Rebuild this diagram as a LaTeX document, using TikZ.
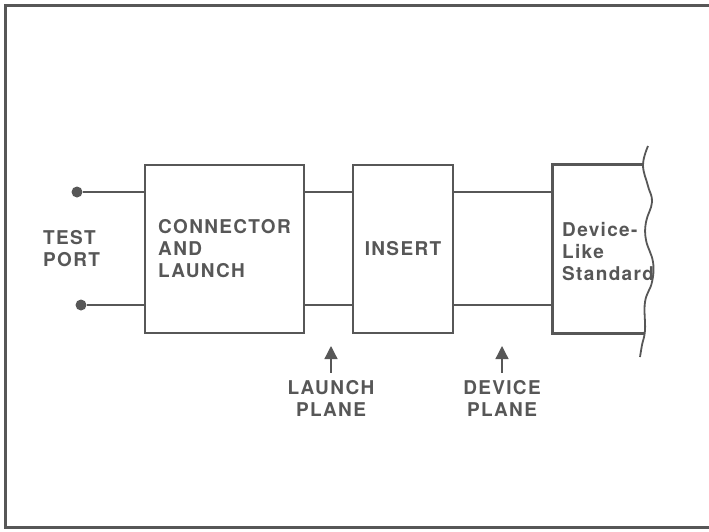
\documentclass[tikz,border=0pt]{standalone}
\usepackage{fontspec}
\setmainfont{TeX Gyre Heros}[LetterSpace=7]
\usepackage{tikz}
\usetikzlibrary{arrows.meta}

\colorlet{ink}{black!66}

\begin{document}
\begin{tikzpicture}[x=1pt, y=-1pt,
    every node/.style={text=ink, font=\fontsize{19}{22}\selectfont\bfseries},
    block/.style={draw=ink, line width=2.8pt, minimum height=168pt, align=left, inner sep=0pt},
    portdot/.style={circle, fill=ink, minimum size=11pt, inner sep=0pt},
    rail/.style={draw=ink, line width=2.8pt},
    planearrow/.style={draw=ink, line width=1.3pt, -{Triangle[width=13pt,length=13pt]}, shorten <=5pt}]
        \useasboundingbox (0,0) rectangle (709,531);

        % Outer frame (open at the right)
        \draw[ink, line width=3pt] (709,5) -- (5,5) -- (5,527) -- (709,527);

        % Rails
        \coordinate (railhi) at (0,192);
        \coordinate (raillo) at (0,305);

        % 1. Test port
        \node[portdot] (porthi) at (77,192) {};
        \node[portdot] (portlo) at (81,305) {};
        \node[anchor=west, align=left, inner sep=0pt] (port) at (43,249) {TEST\\PORT};

        % 2. Connector and launch
        \node[block, minimum width=159pt] (conn) at (224.5,249) {CONNECTOR\\AND\\LAUNCH};

        % 3. Insert
        \node[block, minimum width=100pt] (ins) at (403,249) {INSERT};

        % 4. Device-like standard (wavy right side)
        \node[minimum width=91pt, minimum height=168pt, inner sep=0pt] (devbox) at (598.5,249) {};
        \node[anchor=west, align=left, inner sep=0pt] (dev) at (562,252) {Device-\\Like\\Standard};
        \draw[ink, line width=2.8pt] (devbox.north east) -- (devbox.north west)
            -- (devbox.south west) -- (devbox.south east);
        \draw[ink, line width=1.8pt] plot[smooth, tension=0.7] coordinates
            {(648,146) (643,165) (648,186) (652,202) (646,222) (646,240) (653,262)
             (652,282) (645,302) (645,330) (642,345) (640,357)};

        % Wires between the blocks
        \draw[rail] (porthi) -- (conn.west |- railhi);
        \draw[rail] (portlo) -- (conn.west |- raillo);
        \draw[rail] (conn.east |- railhi) -- (ins.west |- railhi);
        \draw[rail] (conn.east |- raillo) -- (ins.west |- raillo);
        \draw[rail] (ins.east |- railhi) -- (devbox.west |- railhi);
        \draw[rail] (ins.east |- raillo) -- (devbox.west |- raillo);

        % Reference planes
        \node[align=center, inner sep=2pt] (launch) at (331,398) {LAUNCH\\PLANE};
        \node[align=center, inner sep=2pt] (device) at (502,398) {DEVICE\\PLANE};
        \coordinate (launchtip) at (331,346);
        \coordinate (devicetip) at (502,346);
        \draw[planearrow] (launch.north) -- (launchtip);
        \draw[planearrow] (device.north) -- (devicetip);

    \end{tikzpicture}
\end{document}
